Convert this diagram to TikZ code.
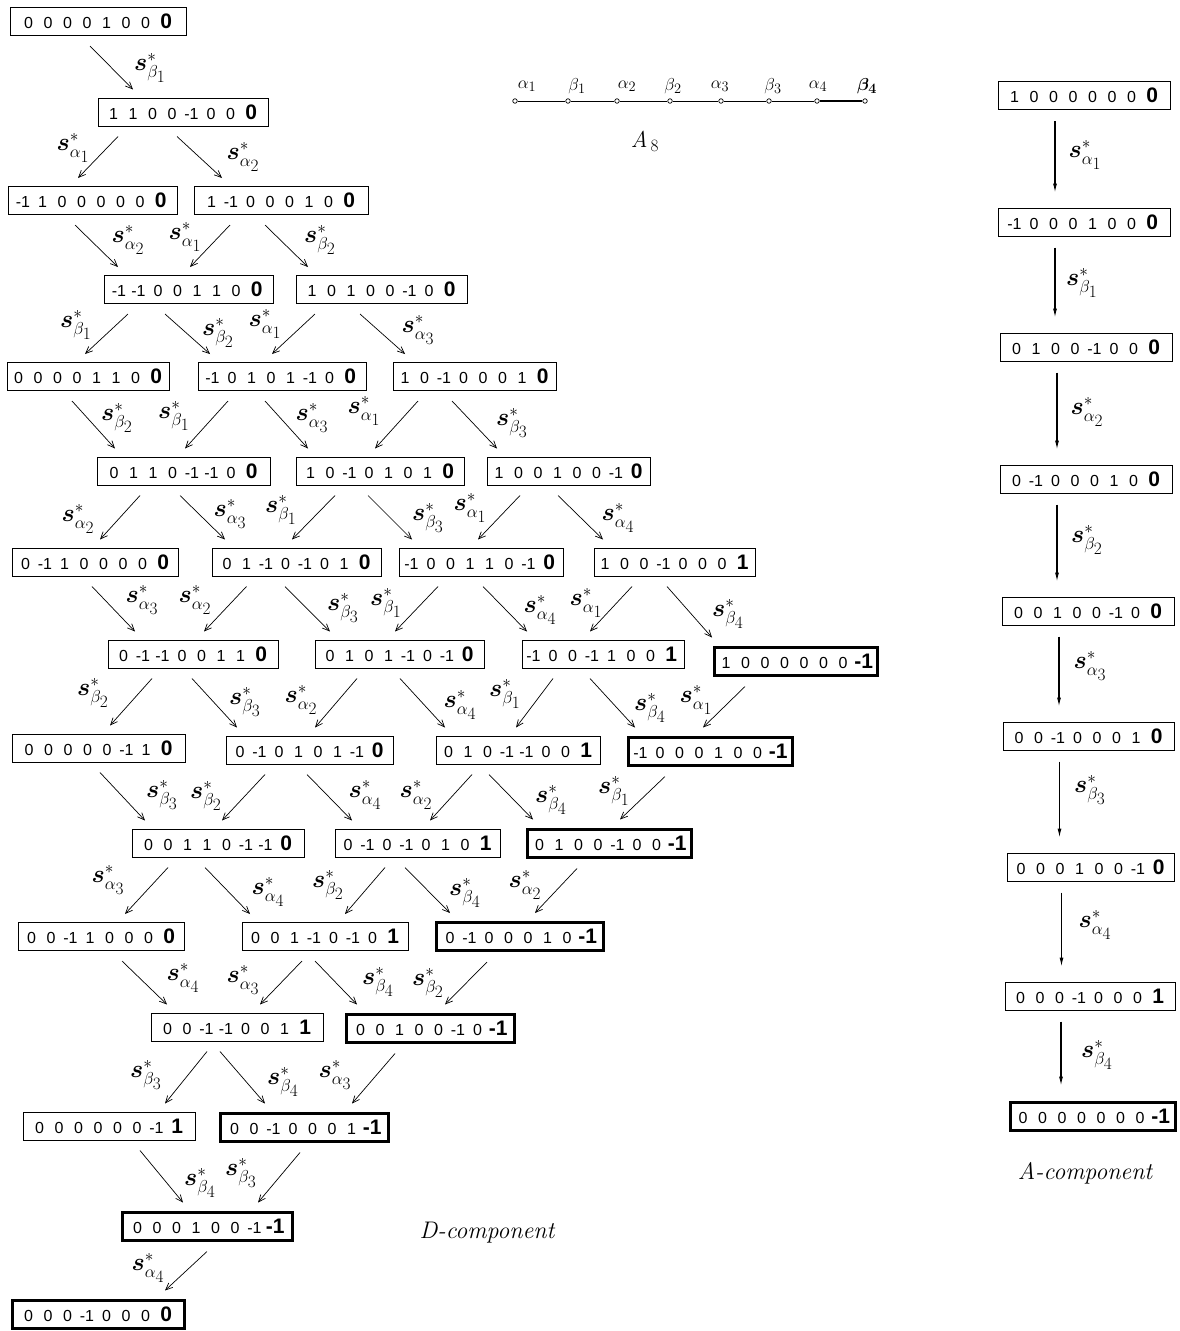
\documentclass[tikz,border=0pt]{standalone}
\usepackage{fontspec}
\usepackage{amsmath}
\usepackage{bm}
\usetikzlibrary{calc,arrows.meta}
\newfontfamily\boxfont{Liberation Sans}
\newcommand\ent[1]{\makebox[19.5pt]{#1}}
\newcommand\vb[8]{\boxfont\fontsize{16}{16}\selectfont\ent{#1}\ent{#2}\ent{#3}\ent{#4}\ent{#5}\ent{#6}\ent{#7}\makebox[22pt]{\bfseries\fontsize{21}{21}\selectfont #8}}
\newcommand\sal[1]{$\bm{s}^{*}_{\alpha_{\scriptstyle #1}}$}
\newcommand\sbe[1]{$\bm{s}^{*}_{\beta_{\scriptstyle #1}}$}
\tikzset{
  vbox/.style={draw, line width=1pt, minimum width=#1, minimum height=28pt, inner sep=0pt},
  vbold/.style={vbox=#1, line width=3pt},
  darrow/.style={line width=0.7pt, -{Straight Barb[length=7pt,width=6pt]}},
  aarrow/.style={line width=1.1pt, -{Latex[length=9pt,width=4pt]}},
  lbl/.style={inner sep=0pt, font=\fontsize{24}{24}\selectfont},
  dot/.style={circle, draw, fill=white, inner sep=0pt, minimum size=4.5pt, line width=0.7pt},
  dlbl/.style={inner sep=0pt, font=\fontsize{19}{19}\selectfont},
  title/.style={inner sep=0pt, font=\fontsize{24}{24}\selectfont\itshape},
}
% arrow macro: src, start x-offset, dst, end x-offset, label, label x, label y
\newcommand\darr[7]{\draw[darrow] ($(#1.south)+(#2,10)$) -- ($(#3.north)+(#4,-8)$); \node[lbl] (l#1#3) at (#6,#7) {#5};}
\newcommand\aarr[4]{\draw[aarrow] ($(#1.south)+(-29,11)$) coordinate (s#1) -- ($(s#1 |- #2.north)+(0,-15)$); \node[lbl] (l#1#2) at (#4) {#3};}
\begin{document}
\begin{tikzpicture}[x=1pt,y=-1pt]
\useasboundingbox (0,0) rectangle (1179,1331);
% ---------------- D-component boxes
\node[vbox=176pt] (b0) at (98,21.5) {\vb{0}{0}{0}{0}{1}{0}{0}{0}};
\node[vbox=170pt] (b1) at (183,112) {\vb{1}{1}{0}{0}{-1}{0}{0}{0}};
\node[vbox=169pt] (b2a) at (92.5,200.5) {\vb{-1}{1}{0}{0}{0}{0}{0}{0}};
\node[vbox=174pt] (b2b) at (281,200.5) {\vb{1}{-1}{0}{0}{0}{1}{0}{0}};
\node[vbox=169pt] (b3a) at (188.5,289.5) {\vb{-1}{-1}{0}{0}{1}{1}{0}{0}};
\node[vbox=171pt] (b3b) at (381.5,289.5) {\vb{1}{0}{1}{0}{0}{-1}{0}{0}};
\node[vbox=162pt] (b4a) at (88,376.5) {\vb{0}{0}{0}{0}{1}{1}{0}{0}};
\node[vbox=168pt] (b4b) at (282,376.5) {\vb{-1}{0}{1}{0}{1}{-1}{0}{0}};
\node[vbox=163pt] (b4c) at (474.5,376.5) {\vb{1}{0}{-1}{0}{0}{0}{1}{0}};
\node[vbox=173pt] (b5a) at (183.5,471) {\vb{0}{1}{1}{0}{-1}{-1}{0}{0}};
\node[vbox=168pt] (b5b) at (380,471) {\vb{1}{0}{-1}{0}{1}{0}{1}{0}};
\node[vbox=163pt] (b5c) at (568.5,471) {\vb{1}{0}{0}{1}{0}{0}{-1}{0}};
\node[vbox=166pt] (b6a) at (95,562) {\vb{0}{-1}{1}{0}{0}{0}{0}{0}};
\node[vbox=169pt] (b6b) at (296.5,562) {\vb{0}{1}{-1}{0}{-1}{0}{1}{0}};
\node[vbox=164pt] (b6c) at (481,562) {\vb{-1}{0}{0}{1}{1}{0}{-1}{0}};
\node[vbox=161pt] (b6d) at (674.5,562) {\vb{1}{0}{0}{-1}{0}{0}{0}{1}};
\node[vbox=170pt] (b7a) at (193,654) {\vb{0}{-1}{-1}{0}{0}{1}{1}{0}};
\node[vbox=169pt] (b7b) at (399.5,654) {\vb{0}{1}{0}{1}{-1}{0}{-1}{0}};
\node[vbox=162pt] (b7c) at (603,654) {\vb{-1}{0}{0}{-1}{1}{0}{0}{1}};
\node[vbold=163pt] (b7d) at (795.5,661) {\vb{1}{0}{0}{0}{0}{0}{0}{-1}};
\node[vbox=173pt] (b8a) at (98.5,748) {\vb{0}{0}{0}{0}{0}{-1}{1}{0}};
\node[vbox=167pt] (b8b) at (309.5,750) {\vb{0}{-1}{0}{1}{0}{1}{-1}{0}};
\node[vbox=164pt] (b8c) at (518,750) {\vb{0}{1}{0}{-1}{-1}{0}{0}{1}};
\node[vbold=164pt] (b8d) at (710,751) {\vb{-1}{0}{0}{0}{1}{0}{0}{-1}};
\node[vbox=172pt] (b9a) at (218,843) {\vb{0}{0}{1}{1}{0}{-1}{-1}{0}};
\node[vbox=165pt] (b9b) at (417.5,843) {\vb{0}{-1}{0}{-1}{0}{1}{0}{1}};
\node[vbold=164pt] (b9c) at (609,843) {\vb{0}{1}{0}{0}{-1}{0}{0}{-1}};
\node[vbox=166pt] (b10a) at (101,936.5) {\vb{0}{0}{-1}{1}{0}{0}{0}{0}};
\node[vbox=166pt] (b10b) at (325,936.5) {\vb{0}{0}{1}{-1}{0}{-1}{0}{1}};
\node[vbold=167pt] (b10c) at (519.5,936.5) {\vb{0}{-1}{0}{0}{0}{1}{0}{-1}};
\node[vbox=172pt] (b11a) at (237,1027) {\vb{0}{0}{-1}{-1}{0}{0}{1}{1}};
\node[vbold=168pt] (b11b) at (430,1028) {\vb{0}{0}{1}{0}{0}{-1}{0}{-1}};
\node[vbox=172pt] (b12a) at (109,1126) {\vb{0}{0}{0}{0}{0}{0}{-1}{1}};
\node[vbold=168pt] (b12b) at (304,1127) {\vb{0}{0}{-1}{0}{0}{0}{1}{-1}};
\node[vbold=170pt] (b13) at (207,1226) {\vb{0}{0}{0}{1}{0}{0}{-1}{-1}};
\node[vbold=172pt] (b14) at (98,1314) {\vb{0}{0}{0}{-1}{0}{0}{0}{0}};
% ---------------- D-component arrows
\darr{b0}{-8}{b1}{-50}{\sbe{1}}{150}{68}
\darr{b1}{-65}{b2a}{-14.5}{\sal{1}}{73}{148}
\darr{b1}{-6}{b2b}{-59}{\sal{2}}{243}{157}
\darr{b2a}{-17.5}{b3a}{-70.5}{\sal{2}}{128}{240}
\darr{b2b}{-51}{b3a}{1.5}{\sal{1}}{185}{237}
\darr{b2b}{-16}{b3b}{-73.5}{\sbe{2}}{320}{240}
\darr{b3a}{-60.5}{b4a}{-3}{\sbe{1}}{76}{325}
\darr{b3a}{-23.5}{b4b}{-72}{\sbe{2}}{218}{333}
\darr{b3b}{-66.5}{b4b}{-10}{\sal{1}}{265}{324}
\darr{b3b}{-21.5}{b4c}{-69.5}{\sal{3}}{418}{330}
\darr{b4a}{-16}{b5a}{-68.5}{\sbe{2}}{117}{418}
\darr{b4b}{-54}{b5a}{1.5}{\sbe{1}}{174}{416}
\darr{b4b}{-17}{b5b}{-72}{\sal{3}}{312}{418}
\darr{b4c}{-56.5}{b5b}{-5}{\sal{1}}{364}{411}
\darr{b4c}{-22.5}{b5c}{-71.5}{\sbe{3}}{512}{423}
\darr{b5a}{-43.5}{b6a}{5}{\sal{2}}{78}{519}
\darr{b5a}{-3.5}{b6b}{-71.5}{\sal{3}}{230}{514}
\darr{b5b}{-45}{b6b}{-4.5}{\sbe{1}}{281}{510}
\darr{b5b}{-12}{b6c}{-69}{\sbe{3}}{428}{518}
\darr{b5c}{-48.5}{b6c}{-3}{\sal{1}}{470}{508}
\darr{b5c}{-10.5}{b6d}{-71.5}{\sal{4}}{618}{518}
\darr{b6a}{-3}{b7a}{-58}{\sal{3}}{142}{600}
\darr{b6b}{-50}{b7a}{11}{\sal{2}}{195}{600}
\darr{b6b}{-11.5}{b7b}{-69.5}{\sbe{3}}{343}{608}
\darr{b6c}{-43}{b7b}{-4.5}{\sbe{1}}{386}{603}
\darr{b6c}{2}{b7c}{-76}{\sal{4}}{540}{610}
\darr{b6d}{-42.5}{b7c}{-13}{\sal{1}}{586}{603}
\darr{b6d}{-7.5}{b7d}{-83.5}{\sbe{4}}{728}{614}
\darr{b7a}{-41}{b8a}{11.5}{\sbe{2}}{93}{693}
\darr{b7a}{-1}{b8b}{-72.5}{\sbe{3}}{245}{702}
\darr{b7b}{-42.5}{b8b}{5.5}{\sal{2}}{301}{700}
\darr{b7b}{0.5}{b8c}{-73}{\sal{4}}{460}{705}
\darr{b7c}{-50}{b8c}{-2}{\sbe{1}}{505}{694}
\darr{b7c}{-13}{b8d}{-75}{\sbe{4}}{650}{708}
\darr{b7d}{-50.5}{b8d}{-7}{\sal{1}}{696}{700}
\darr{b8a}{1.5}{b9a}{-73}{\sbe{3}}{162}{795}
\darr{b8b}{-44.5}{b9a}{4}{\sbe{2}}{206}{796}
\darr{b8b}{-2.5}{b9b}{-65.5}{\sal{4}}{365}{795}
\darr{b8c}{-46}{b9b}{12.5}{\sal{2}}{416}{795}
\darr{b8c}{-29}{b9c}{-76}{\sbe{4}}{551}{800}
\darr{b8d}{-45}{b9c}{11}{\sbe{1}}{614}{791}
\darr{b9a}{-50}{b10a}{24}{\sal{3}}{108}{880}
\darr{b9a}{-13}{b10b}{-75}{\sal{4}}{268}{892}
\darr{b9b}{-32.5}{b10b}{20}{\sbe{2}}{328}{885}
\darr{b9b}{-12.5}{b10c}{-69.5}{\sbe{4}}{465}{893}
\darr{b9c}{-32}{b10c}{15.5}{\sal{2}}{525}{885}
\darr{b10a}{21}{b11a}{-70}{\sal{4}}{183}{978}
\darr{b10b}{-23}{b11a}{23}{\sal{3}}{243}{980}
\darr{b10b}{-10}{b11b}{-73}{\sbe{4}}{378}{982}
\darr{b10c}{-32.5}{b11b}{15}{\sbe{2}}{428}{983}
\darr{b11a}{-30}{b12a}{56}{\sbe{3}}{146}{1075}
\darr{b11a}{-17}{b12b}{-39}{\sbe{4}}{283}{1082}
\darr{b11b}{-35}{b12b}{48}{\sal{3}}{335}{1075}
\darr{b12a}{31}{b13}{-24}{\sbe{4}}{200}{1183}
\darr{b12b}{-4}{b13}{51}{\sbe{3}}{241}{1173}
\darr{b13}{0}{b14}{67}{\sal{4}}{148}{1268}
\node[title] (dcomp) at (487,1233) {D-component};
% ---------------- Dynkin diagram A8
\node[dot] (d1) at (515,101) {};
\node[dot] (d2) at (568,101) {};
\node[dot] (d3) at (617,101) {};
\node[dot] (d4) at (670,101) {};
\node[dot] (d5) at (721,101) {};
\node[dot] (d6) at (769,101) {};
\node[dot] (d7) at (817,101) {};
\node[dot] (d8) at (865,101) {};
\draw[line width=0.8pt] (d1) -- (d2) -- (d3) -- (d4) -- (d5) -- (d6) -- (d7);
\draw[line width=2.5pt] (d7) -- (d8);
\node[dlbl] (t1) at (527,86) {$\alpha_1$};
\node[dlbl] (t2) at (577,86) {$\beta_1$};
\node[dlbl] (t3) at (627,86) {$\alpha_2$};
\node[dlbl] (t4) at (673,86) {$\beta_2$};
\node[dlbl] (t5) at (720,86) {$\alpha_3$};
\node[dlbl] (t6) at (773,86) {$\beta_3$};
\node[dlbl] (t7) at (818,86) {$\alpha_4$};
\node[dlbl] (t8) at (867,86) {$\bm{\beta_4}$};
\node[inner sep=0pt, font=\fontsize{23}{23}\selectfont] (a8name) at (645,141) {\textit{A}$_{\,8}$};
% ---------------- A-component
\node[vbox=172pt] (a0) at (1084,95.5) {\vb{1}{0}{0}{0}{0}{0}{0}{0}};
\node[vbox=172pt] (a1) at (1084,222) {\vb{-1}{0}{0}{0}{1}{0}{0}{0}};
\node[vbox=172pt] (a2) at (1086,347) {\vb{0}{1}{0}{0}{-1}{0}{0}{0}};
\node[vbox=172pt] (a3) at (1086,479) {\vb{0}{-1}{0}{0}{0}{1}{0}{0}};
\node[vbox=172pt] (a4) at (1088,611) {\vb{0}{0}{1}{0}{0}{-1}{0}{0}};
\node[vbox=171pt] (a5) at (1088.5,736) {\vb{0}{0}{-1}{0}{0}{0}{1}{0}};
\node[vbox=167pt] (a6) at (1090.5,867) {\vb{0}{0}{0}{1}{0}{0}{-1}{0}};
\node[vbox=170pt] (a7) at (1090,996) {\vb{0}{0}{0}{-1}{0}{0}{0}{1}};
\node[vbold=165pt] (a8) at (1092.5,1116) {\vb{0}{0}{0}{0}{0}{0}{0}{-1}};
\aarr{a0}{a1}{\sal{1}}{1085,155}
\aarr{a1}{a2}{\sbe{1}}{1082,283}
\aarr{a2}{a3}{\sal{2}}{1087,412}
\aarr{a3}{a4}{\sbe{2}}{1087,540}
\aarr{a4}{a5}{\sal{3}}{1090,666}
\aarr{a5}{a6}{\sbe{3}}{1090,790}
\aarr{a6}{a7}{\sal{4}}{1095,925}
\aarr{a7}{a8}{\sbe{4}}{1097,1055}
\node[title] (acomp) at (1085,1173) {A-component};
\end{tikzpicture}
\end{document}
